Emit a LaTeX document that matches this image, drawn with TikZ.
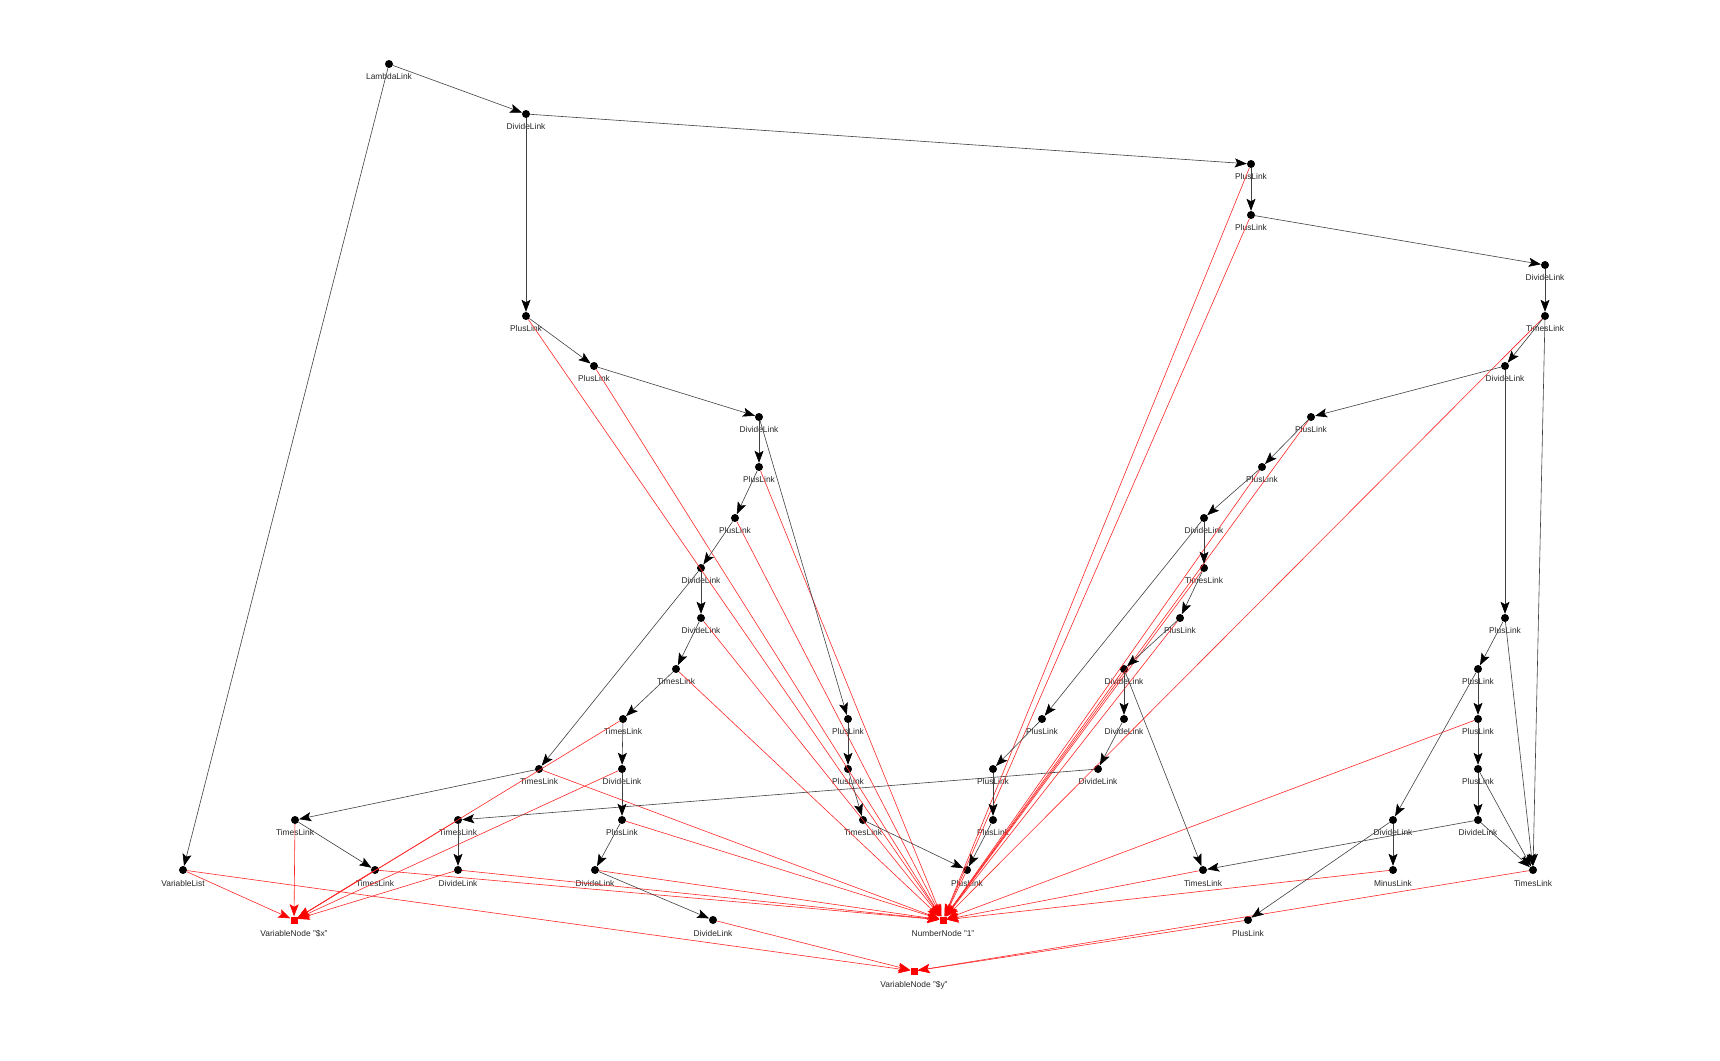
\documentclass[tikz,border=0pt]{standalone}
\usepackage{fontspec}
\setmainfont{Liberation Sans}
\usetikzlibrary{arrows.meta}

\begin{document}
\begin{tikzpicture}
  [
    x                 = 1pt,
    y                 = -1pt,
    every node/.style = {font=\fontsize{8.4}{10}\selectfont, text=black!85},
    link/.style       = {circle, fill=black, inner sep=0pt, minimum size=8pt,
                         label={[inner sep=0pt, label distance=5.5pt]below:#1}},
    atom/.style       = {rectangle, fill=red, inner sep=0pt, minimum size=7pt,
                         label={[inner sep=0pt, label distance=6pt]below:#1}},
    tree/.style       = {color=black!75, line width=0.6pt,
                         -{Stealth[length=12pt, width=9pt, inset=2.5pt, color=black]}},
    value/.style      = {color=red!85, line width=0.6pt,
                         -{Stealth[length=12pt, width=9pt, inset=2.5pt, color=red]}}
  ]
  \useasboundingbox (0,0) rectangle (1720,1060);

  % top and right branch
  \node[link=LambdaLink] (lambda)  at (389,64)   {};
  \node[link=DivideLink] (div1)    at (526,114)  {};
  \node[link=PlusLink]   (plusA)   at (1251,164) {};
  \node[link=PlusLink]   (plusB)   at (1251,215) {};
  \node[link=DivideLink] (divR1)   at (1545,265) {};
  \node[link=TimesLink]  (timesR1) at (1545,316) {};
  \node[link=DivideLink] (divR2)   at (1505,366) {};
  \node[link=PlusLink]   (plusR1)  at (1311,417) {};
  \node[link=PlusLink]   (plusR2)  at (1262,467) {};
  \node[link=DivideLink] (divR3)   at (1204,518) {};
  \node[link=TimesLink]  (timesR2) at (1204,568) {};
  \node[link=PlusLink]   (plusR3)  at (1180,618) {};
  \node[link=DivideLink] (divR4)   at (1124,669) {};
  \node[link=PlusLink]   (plusR4)  at (1042,719) {};
  \node[link=DivideLink] (divR5)   at (1124,719) {};
  \node[link=PlusLink]   (plusR5)  at (993,769)  {};
  \node[link=DivideLink] (divR6)   at (1098,769) {};
  \node[link=PlusLink]   (plusR6)  at (993,820)  {};
  \node[link=TimesLink]  (timesR3) at (1203,870) {};

  \node[link=PlusLink]   (plusF1)  at (1505,618) {};
  \node[link=PlusLink]   (plusF2)  at (1478,669) {};
  \node[link=PlusLink]   (plusF3)  at (1478,719) {};
  \node[link=PlusLink]   (plusF4)  at (1478,769) {};
  \node[link=DivideLink] (divF1)   at (1393,820) {};
  \node[link=DivideLink] (divF2)   at (1478,820) {};
  \node[link=MinusLink]  (minusF)  at (1393,870) {};
  \node[link=TimesLink]  (timesF)  at (1533,870) {};
  \node[link=PlusLink]   (plusF5)  at (1248,920) {};

  % left branch
  \node[link=PlusLink]     (plusL1)  at (526,316) {};
  \node[link=PlusLink]     (plusL2)  at (594,366) {};
  \node[link=DivideLink]   (divL1)   at (759,417) {};
  \node[link=PlusLink]     (plusL3)  at (759,467) {};
  \node[link=PlusLink]     (plusL4)  at (735,518) {};
  \node[link=DivideLink]   (divL2)   at (701,568) {};
  \node[link=DivideLink]   (divL3)   at (701,618) {};
  \node[link=TimesLink]    (timesL1) at (676,669) {};
  \node[link=TimesLink]    (timesL2) at (623,719) {};
  \node[link=TimesLink]    (timesL3) at (539,769) {};
  \node[link=DivideLink]   (divL4)   at (622,769) {};
  \node[link=PlusLink]     (plusL5)  at (622,820) {};
  \node[link=DivideLink]   (divL5)   at (595,870) {};
  \node[link=DivideLink]   (divL6)   at (713,920) {};
  \node[link=TimesLink]    (timesL4) at (295,820) {};
  \node[link=TimesLink]    (timesL5) at (458,820) {};
  \node[link=TimesLink]    (timesL6) at (375,870) {};
  \node[link=DivideLink]   (divL7)   at (458,870) {};
  \node[link=VariableList] (varlist) at (183,870) {};

  \node[link=PlusLink]   (plusM1)  at (848,719) {};
  \node[link=PlusLink]   (plusM2)  at (848,769) {};
  \node[link=TimesLink]  (timesM1) at (863,820) {};
  \node[link=PlusLink]   (plusM3)  at (967,870) {};

  % atoms
  \node[atom={VariableNode "\$x"}] (varx) at (294,920) {};
  \node[atom={NumberNode "1"}]     (num1) at (943,920) {};
  \node[atom={VariableNode "\$y"}] (vary) at (914,971) {};

  % red edges to the atoms
  \draw[value] (varlist) -- (varx);
  \draw[value] (timesL4) -- (varx);
  \draw[value] (timesL2) -- (varx);
  \draw[value] (timesL5) -- (varx);
  \draw[value] (timesL6) -- (varx);
  \draw[value] (divL4)   -- (varx);
  \draw[value] (divL7)   -- (varx);

  \draw[value] (varlist) -- (vary);
  \draw[value] (divL6)   -- (vary);
  \draw[value] (timesF)  -- (vary);
  \draw[value] (plusF5)  -- (vary);

  \draw[value] (plusA)   -- (num1);
  \draw[value] (plusB)   -- (num1);
  \draw[value] (timesR1) -- (num1);
  \draw[value] (plusR1)  -- (num1);
  \draw[value] (plusR2)  -- (num1);
  \draw[value] (timesR2) -- (num1);
  \draw[value] (plusR3)  -- (num1);
  \draw[value] (divR4)   -- (num1);
  \draw[value] (plusF3)  -- (num1);
  \draw[value] (timesR3) -- (num1);
  \draw[value] (minusF)  -- (num1);
  \draw[value] (plusM3)  -- (num1);
  \draw[value] (plusL1)  -- (num1);
  \draw[value] (plusL2)  -- (num1);
  \draw[value] (plusL3)  -- (num1);
  \draw[value] (plusL4)  -- (num1);
  \draw[value] (divL3)   -- (num1);
  \draw[value] (timesL1) -- (num1);
  \draw[value] (timesL3) -- (num1);
  \draw[value] (plusL5)  -- (num1);
  \draw[value] (divL5)   -- (num1);
  \draw[value] (timesL6) -- (num1);
  \draw[value] (divL7)   -- (num1);

  % black edges between the links
  \draw[tree] (lambda)  -- (div1);
  \draw[tree] (lambda)  -- (varlist);
  \draw[tree] (div1)    -- (plusL1);
  \draw[tree] (div1)    -- (plusA);
  \draw[tree] (plusA)   -- (plusB);
  \draw[tree] (plusB)   -- (divR1);
  \draw[tree] (divR1)   -- (timesR1);
  \draw[tree] (timesR1) -- (divR2);
  \draw[tree] (timesR1) -- (timesF);
  \draw[tree] (divR2)   -- (plusR1);
  \draw[tree] (divR2)   -- (plusF1);
  \draw[tree] (plusR1)  -- (plusR2);
  \draw[tree] (plusR2)  -- (divR3);
  \draw[tree] (divR3)   -- (timesR2);
  \draw[tree] (divR3)   -- (plusR4);
  \draw[tree] (timesR2) -- (plusR3);
  \draw[tree] (plusR3)  -- (divR4);
  \draw[tree] (divR4)   -- (divR5);
  \draw[tree] (divR4)   -- (timesR3);
  \draw[tree] (divR5)   -- (divR6);
  \draw[tree] (divR6)   -- (timesL5);
  \draw[tree] (plusR4)  -- (plusR5);
  \draw[tree] (plusR5)  -- (plusR6);
  \draw[tree] (plusR6)  -- (plusM3);
  \draw[tree] (plusF1)  -- (plusF2);
  \draw[tree] (plusF1)  -- (timesF);
  \draw[tree] (plusF2)  -- (plusF3);
  \draw[tree] (plusF2)  -- (divF1);
  \draw[tree] (plusF3)  -- (plusF4);
  \draw[tree] (plusF4)  -- (divF2);
  \draw[tree] (plusF4)  -- (timesF);
  \draw[tree] (divF2)   -- (timesF);
  \draw[tree] (divF2)   -- (timesR3);
  \draw[tree] (divF1)   -- (minusF);
  \draw[tree] (divF1)   -- (plusF5);
  \draw[tree] (plusL1)  -- (plusL2);
  \draw[tree] (plusL2)  -- (divL1);
  \draw[tree] (divL1)   -- (plusL3);
  \draw[tree] (divL1)   -- (plusM1);
  \draw[tree] (plusL3)  -- (plusL4);
  \draw[tree] (plusL4)  -- (divL2);
  \draw[tree] (divL2)   -- (divL3);
  \draw[tree] (divL2)   -- (timesL3);
  \draw[tree] (divL3)   -- (timesL1);
  \draw[tree] (timesL1) -- (timesL2);
  \draw[tree] (timesL2) -- (divL4);
  \draw[tree] (divL4)   -- (plusL5);
  \draw[tree] (plusL5)  -- (divL5);
  \draw[tree] (divL5)   -- (divL6);
  \draw[tree] (timesL3) -- (timesL4);
  \draw[tree] (timesL4) -- (timesL6);
  \draw[tree] (timesL5) -- (divL7);
  \draw[tree] (plusM1)  -- (plusM2);
  \draw[tree] (plusM2)  -- (timesM1);
  \draw[tree] (timesM1) -- (plusM3);
\end{tikzpicture}
\end{document}
